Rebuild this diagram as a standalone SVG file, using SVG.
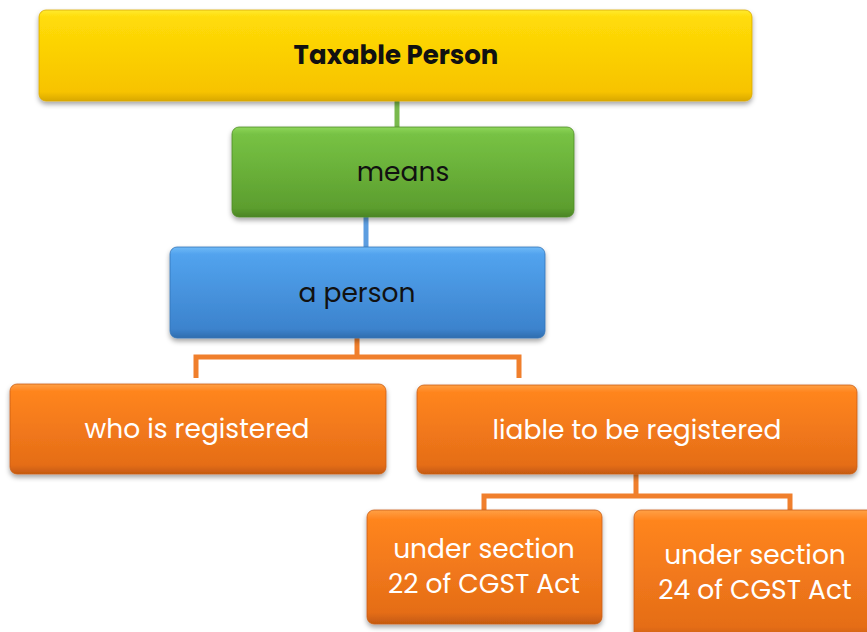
<svg xmlns="http://www.w3.org/2000/svg" width="867" height="632" viewBox="0 0 867 632">
<defs>
<linearGradient id="gY" x1="0" y1="0" x2="0" y2="1"><stop offset="0" stop-color="#FFEA30"/><stop offset="0.08" stop-color="#FFDC08"/><stop offset="0.9" stop-color="#F7C300"/><stop offset="1" stop-color="#D9A800"/></linearGradient>
<linearGradient id="gG" x1="0" y1="0" x2="0" y2="1"><stop offset="0" stop-color="#8ED65A"/><stop offset="0.08" stop-color="#77C244"/><stop offset="0.9" stop-color="#5C9E2E"/><stop offset="1" stop-color="#4A8424"/></linearGradient>
<linearGradient id="gB" x1="0" y1="0" x2="0" y2="1"><stop offset="0" stop-color="#70BAF7"/><stop offset="0.08" stop-color="#52A3EE"/><stop offset="0.9" stop-color="#3C83CD"/><stop offset="1" stop-color="#2F6DAE"/></linearGradient>
<linearGradient id="gO" x1="0" y1="0" x2="0" y2="1"><stop offset="0" stop-color="#FFA045"/><stop offset="0.08" stop-color="#FF851F"/><stop offset="0.9" stop-color="#E56D17"/><stop offset="1" stop-color="#C45A10"/></linearGradient>
<filter id="sh" x="-5%" y="-10%" width="110%" height="130%"><feDropShadow dx="0" dy="3" stdDeviation="2.5" flood-color="#000" flood-opacity="0.35"/></filter>
<style>
.box{filter:url(#sh);}
.t{font-family:"Poppins","Open Sans","Liberation Sans",sans-serif;font-size:26.5px;text-anchor:middle;}
.dark{fill:#111;}
.light{fill:#fff;}
.conn{fill:none;stroke-width:5;}
</style>
</defs>
<g id="connectors">
<line class="conn" x1="397" y1="101" x2="397" y2="127" stroke="#79B94C"/>
<line class="conn" x1="366" y1="217" x2="366" y2="247" stroke="#5C9DE0"/>
<path class="conn" stroke="#F07F2C" d="M357 338 V357 M196 378 V357 H519 V378"/>
<path class="conn" stroke="#F07F2C" d="M636 474 V496 M484 512 V496 H790 V512"/>
</g>
<g id="n1"><rect class="box" x="39" y="10" width="713" height="91" rx="7" fill="url(#gY)" stroke="#D9A800" stroke-width="0.8"/><text class="t dark" x="396" y="64" font-weight="bold" style="font-size:26px">Taxable Person</text></g>
<g id="n2"><rect class="box" x="232" y="127" width="342" height="90" rx="7" fill="url(#gG)" stroke="#4F8C26" stroke-width="0.8"/><text class="t dark" x="403" y="181">means</text></g>
<g id="n3"><rect class="box" x="170" y="247" width="375" height="91" rx="7" fill="url(#gB)" stroke="#3274B8" stroke-width="0.8"/><text class="t dark" x="357" y="302">a person</text></g>
<g id="n4"><rect class="box" x="10" y="384" width="376" height="90" rx="7" fill="url(#gO)" stroke="#C95E14" stroke-width="0.8"/><text class="t light" x="197" y="438">who is registered</text></g>
<g id="n5"><rect class="box" x="417" y="385" width="440" height="89" rx="7" fill="url(#gO)" stroke="#C95E14" stroke-width="0.8"/><text class="t light" x="637" y="439">liable to be registered</text></g>
<g id="n6"><rect class="box" x="367" y="510" width="235" height="114" rx="7" fill="url(#gO)" stroke="#C95E14" stroke-width="0.8"/><text class="t light" x="484" y="558">under section</text><text class="t light" x="484" y="593">22 of CGST Act</text></g>
<g id="n7"><rect class="box" x="634" y="510" width="240" height="130" rx="7" fill="url(#gO)" stroke="#C95E14" stroke-width="0.8"/><text class="t light" x="755" y="564">under section</text><text class="t light" x="755" y="599">24 of CGST Act</text></g>
</svg>
